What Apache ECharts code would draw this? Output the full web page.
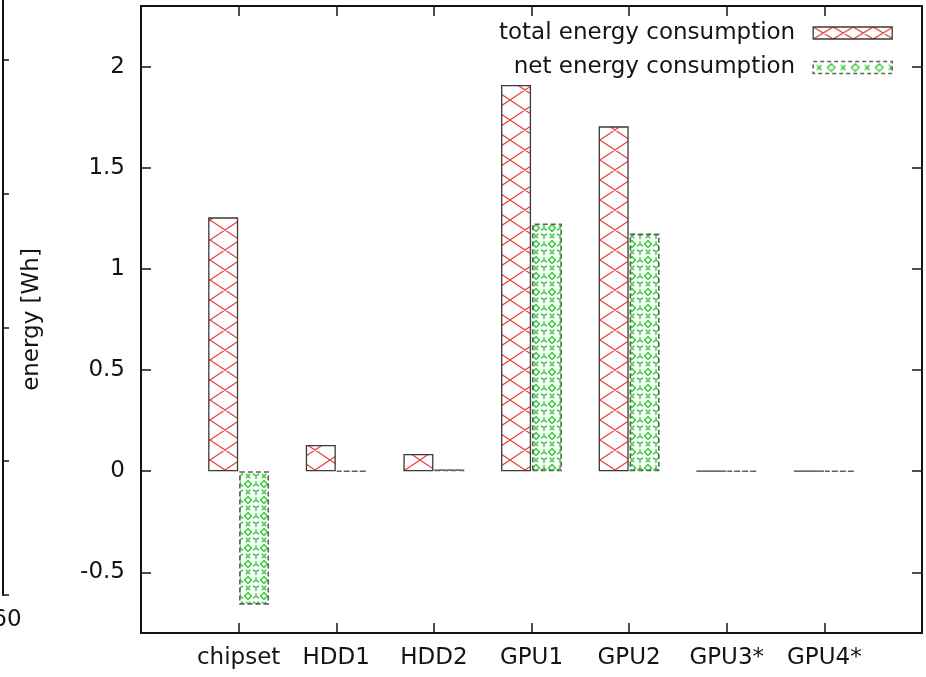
<!DOCTYPE html>
<html>
<head>
<meta charset="utf-8">
<script src="https://cdn.jsdelivr.net/npm/echarts@6/dist/echarts.min.js"></script>
<style>
  html, body { margin: 0; padding: 0; background: #fff; }
  #chart { width: 926px; height: 677px; }
</style>
</head>
<body>
<div id="chart"></div>
<script>
// Components and their energy use (Wh)
const categories = ['chipset', 'HDD1', 'HDD2', 'GPU1', 'GPU2', 'GPU3*', 'GPU4*'];
const totalEnergy = [1.255, 0.13, 0.085, 1.91, 1.705, 0, 0];
const netEnergy = [-0.66, 0, 0.01, 1.225, 1.175, 0, 0];
const yTickValues = [-0.5, 0, 0.5, 1, 1.5, 2];
const seriesNames = ['total energy consumption', 'net energy consumption'];
const neighbourTickLabel = '60';

const FONT = 'DejaVu Sans';
const INK = '#141414';
const RED = '#e8403c';
const GREEN = '#3ccc3c';

// ---- fill patterns --------------------------------------------------------
function makeTile(w, h, draw) {
  const c = document.createElement('canvas');
  c.width = w; c.height = h;
  draw(c.getContext('2d'), w, h);
  return c;
}

// diagonal cross hatch, crossings at the tile centre and its corners
function crossHatch(w, h, width) {
  return makeTile(w, h, (ctx) => {
    ctx.strokeStyle = RED;
    ctx.lineWidth = width;
    ctx.beginPath();
    for (let dx = -w; dx <= w; dx += w) {
      for (let dy = -h; dy <= h; dy += h) {
        ctx.moveTo(dx, dy); ctx.lineTo(dx + w, dy + h);
        ctx.moveTo(dx + w, dy); ctx.lineTo(dx, dy + h);
      }
    }
    ctx.stroke();
  });
}

function diamond(ctx, x, y, r) {
  ctx.moveTo(x, y - r); ctx.lineTo(x + r, y); ctx.lineTo(x, y + r);
  ctx.lineTo(x - r, y); ctx.closePath();
}
function cross(ctx, x, y, r) {
  ctx.moveTo(x - r, y - r); ctx.lineTo(x + r, y + r);
  ctx.moveTo(x + r, y - r); ctx.lineTo(x - r, y + r);
}
function fork(ctx, x, y, r, up) {
  const s = up ? -1 : 1;
  ctx.moveTo(x, y); ctx.lineTo(x, y - s * r);
  ctx.moveTo(x, y); ctx.lineTo(x - r, y + s * r * 0.8);
  ctx.moveTo(x, y); ctx.lineTo(x + r, y + s * r * 0.8);
}

// diamonds, crosses and forks used for the net-energy bars
const greenBarTile = makeTile(16, 16, (ctx) => {
  ctx.strokeStyle = GREEN;
  ctx.lineWidth = 1.5;
  ctx.beginPath();
  diamond(ctx, 8, 4, 3.4);
  cross(ctx, 8, 12, 2.2);
  for (const x of [0, 16]) {
    fork(ctx, x, 4, 3, false);
    fork(ctx, x, 12, 3, true);
  }
  for (const y of [-4, 20]) {
    diamond(ctx, 8, y, 3.4);
  }
  ctx.stroke();
});

const greenKeyTile = makeTile(24, 12, (ctx) => {
  ctx.strokeStyle = GREEN;
  ctx.lineWidth = 1.4;
  ctx.beginPath();
  cross(ctx, 6, 6, 2.4);
  diamond(ctx, 18, 6, 3.8);
  ctx.stroke();
});

const redBarTile = crossHatch(30, 20, 1.2);
const redKeyTile = crossHatch(20, 12, 1.2);

const pattern = (img) => ({ image: img, repeat: 'repeat' });

const totalStyle = {
  color: pattern(redBarTile),
  borderColor: '#3a3a3a',
  borderWidth: 1.3
};
const netStyle = {
  color: pattern(greenBarTile),
  borderColor: '#566656',
  borderWidth: 1.6,
  borderType: [5, 3]
};

// ---- chart ----------------------------------------------------------------
const chart = echarts.init(document.getElementById('chart'), null, { renderer: 'canvas' });

const textBase = { fontFamily: FONT, fontSize: 23, color: INK };
const frameLine = { show: true, onZero: false, lineStyle: { color: INK, width: 2 } };
const innerTick = { show: true, inside: true, length: 10, lineStyle: { color: INK, width: 1.5 } };

const Y_MIN = -0.8, Y_MAX = 2.3;
const X_MIN = -1, X_MAX = categories.length;

chart.setOption({
  animation: false,
  backgroundColor: '#ffffff',
  textStyle: { fontFamily: FONT },
  grid: [
    { left: 141, right: 4, top: 6, bottom: 44, containLabel: false, outerBoundsMode: 'none' },
    // edge of the neighbouring panel on the far left
    { left: -120, right: 923, top: -74, bottom: 82, containLabel: false, outerBoundsMode: 'none' }
  ],
  legend: {
    orient: 'vertical',
    right: 28,
    top: 16,
    align: 'right',
    icon: 'rect',
    itemWidth: 79,
    itemHeight: 12,
    itemGap: 10.5,
    selectedMode: false,
    textStyle: Object.assign({}, textBase, { lineHeight: 24, padding: [0, 13, 0, 0] }),
    data: [
      { name: seriesNames[0], itemStyle: { color: pattern(redKeyTile), borderColor: '#3a3a3a', borderWidth: 1.3 } },
      { name: seriesNames[1], itemStyle: { color: pattern(greenKeyTile), borderColor: '#566656', borderWidth: 1.6, borderType: [4, 3] } }
    ]
  },
  xAxis: [
    {
      type: 'value', gridIndex: 0, position: 'bottom',
      min: X_MIN, max: X_MAX, interval: 1,
      axisLine: frameLine, axisTick: innerTick, splitLine: { show: false },
      axisLabel: Object.assign({}, textBase, {
        margin: 14,
        formatter: (v) => (categories[Math.round(v)] !== undefined ? categories[Math.round(v)] : '')
      })
    },
    {
      type: 'value', gridIndex: 0, position: 'top',
      min: X_MIN, max: X_MAX, interval: 1,
      axisLine: frameLine, axisTick: innerTick, splitLine: { show: false },
      axisLabel: { show: false }
    },
    {
      type: 'value', gridIndex: 1, position: 'bottom',
      min: 0, max: 60, interval: 60,
      axisLine: { show: false }, axisTick: { show: false }, splitLine: { show: false },
      axisLabel: Object.assign({}, textBase, {
        margin: 14, showMinLabel: false, showMaxLabel: true,
        padding: [0, 0, 0, 8],
        formatter: (v) => (v === 60 ? neighbourTickLabel : '')
      })
    }
  ],
  yAxis: [
    {
      type: 'value', gridIndex: 0, position: 'left',
      min: Y_MIN, max: Y_MAX,
      axisLine: frameLine,
      axisTick: Object.assign({}, innerTick, { customValues: yTickValues }),
      splitLine: { show: false },
      axisLabel: Object.assign({}, textBase, { margin: 16, customValues: yTickValues }),
      name: 'energy [Wh]',
      nameLocation: 'middle',
      nameGap: 97,
      nameTextStyle: textBase
    },
    {
      type: 'value', gridIndex: 0, position: 'right',
      min: Y_MIN, max: Y_MAX,
      axisLine: frameLine,
      axisTick: Object.assign({}, innerTick, { customValues: yTickValues }),
      splitLine: { show: false },
      axisLabel: { show: false }
    },
    {
      type: 'value', gridIndex: 1, position: 'right',
      min: 0, max: 5, interval: 1,
      axisLine: frameLine,
      axisTick: { show: true, inside: false, length: 6, lineStyle: { color: INK, width: 1.5 } },
      splitLine: { show: false },
      axisLabel: { show: false }
    }
  ],
  series: [
    {
      name: seriesNames[0],
      type: 'bar',
      xAxisIndex: 0, yAxisIndex: 0,
      barWidth: 30,
      barGap: '3%',
      data: totalEnergy.map((v, i) => [i, v]),
      itemStyle: totalStyle,
      emphasis: { disabled: true }
    },
    {
      name: seriesNames[1],
      type: 'bar',
      xAxisIndex: 0, yAxisIndex: 0,
      barWidth: 30,
      barGap: '3%',
      data: netEnergy.map((v, i) => [i, v]),
      itemStyle: netStyle,
      emphasis: { disabled: true }
    }
  ]
});
</script>
</body>
</html>
